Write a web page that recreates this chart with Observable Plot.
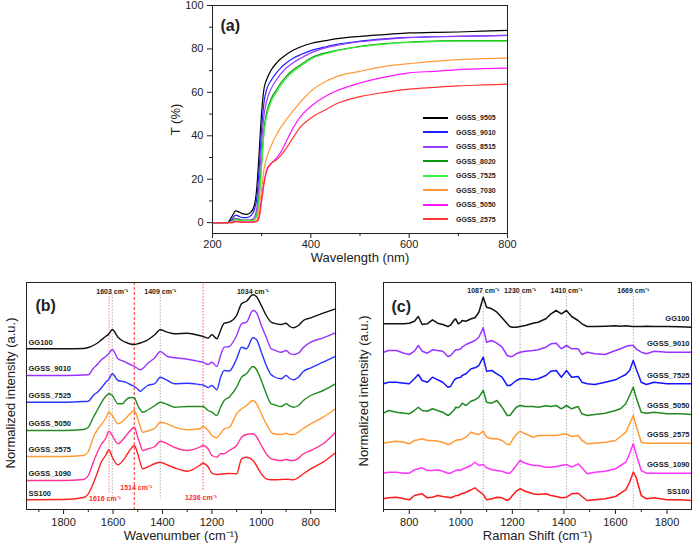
<!DOCTYPE html>
<html>
<head>
<meta charset="utf-8">
<script src="https://cdn.jsdelivr.net/npm/d3@7"></script>
<script src="https://cdn.jsdelivr.net/npm/@observablehq/plot@0.6"></script>
<style>
  html, body { margin: 0; padding: 0; background: #fff; }
  #fig { position: relative; width: 693px; height: 547px; overflow: hidden; font-family: "Liberation Sans", Arial, sans-serif; }
  #fig > div { position: absolute; }
  #pa { left: 150px; top: 1px; }
  #pb { left: 0px; top: 270px; }
  #pc { left: 345px; top: 270px; }
  #key { left: 423px; top: 110.5px; width: 110px; }
  .uvkey-swatch { height: 14.5px; padding-bottom: 0 !important; margin: 0 !important; }
  .uvkey-swatch > svg { margin-right: 8px; }
</style>
</head>
<body>
<div id="fig"><div id="pa"></div><div id="pb"></div><div id="pc"></div><div id="key"></div></div>
<script>
// ---------- (a) UV-Vis transmittance ----------
const uvNames = ["GGSS_9505", "GGSS_9010", "GGSS_8515", "GGSS_8020", "GGSS_7525", "GGSS_7030", "GGSS_5050", "GGSS_2575"];
const wavelengthNm = [200, 230, 240, 247, 255, 262, 270, 278, 285, 290, 295, 300, 305, 310, 320, 330, 340, 350, 365, 380, 400, 430, 450, 500, 550, 600, 650, 700, 750, 800];
const tGGSS9505 = [0, 0, 3, 5.4, 4.8, 4, 3.8, 4.8, 8, 15.8, 32.8, 51, 62, 65.8, 70.5, 73.5, 75.7, 77.4, 79.5, 81, 82.5, 83.8, 84.6, 85.8, 86.6, 87.4, 87.6, 87.8, 88.2, 88.5];
const tGGSS9010 = [0, 0, 1.5, 3.5, 2.8, 2.3, 2.3, 3.2, 5.8, 11.2, 25, 43.5, 55.8, 61.2, 65.8, 69, 71.5, 73.5, 75.8, 77.4, 79.2, 81, 82, 83.6, 84.6, 85.3, 85.6, 85.8, 86, 86.2];
const tGGSS8515 = [0, 0, 0.8, 2, 1.5, 1.2, 1.2, 1.3, 2.5, 6.6, 19, 37.4, 49.7, 55.8, 62, 65.8, 68.8, 71.2, 73.8, 75.8, 78.2, 80.5, 81.5, 83.3, 84.4, 85.2, 85.6, 85.8, 86, 86.2];
const tGGSS8020 = [0, 0, 0.5, 1.7, 1.3, 1, 1, 1, 1.5, 3.5, 12.8, 28, 43.5, 50.5, 57.4, 61.2, 64.6, 67.4, 70.5, 72.8, 75.8, 78.2, 79.2, 81.2, 82.4, 83.2, 83.6, 83.8, 83.8, 83.8];
const tGGSS7525 = [0, 0, 0.4, 1.4, 1.1, 0.9, 0.9, 0.9, 1.2, 3, 11.5, 26, 41.5, 48.8, 56, 60, 63.4, 66.4, 69.6, 72.2, 75.3, 77.8, 79, 81, 82.2, 83, 83.4, 83.6, 83.6, 83.6];
const tGGSS7030 = [0, 0, 0.2, 0.8, 0.5, 0.3, 0.3, 0.3, 0.5, 1.2, 6.6, 15.8, 25, 29.7, 35.8, 40.5, 44.2, 47.4, 51.8, 55.8, 60.5, 65, 67, 69.7, 72, 73.2, 74.3, 75.1, 75.5, 75.8];
const tGGSS5050 = [0, 0, 0, 0.6, 0.4, 0.2, 0.2, 0.2, 0.3, 0.5, 3, 11.2, 19, 24.3, 27.4, 29.7, 32.8, 37.4, 44, 49, 53.5, 58.2, 60.5, 64.3, 67, 69, 69.7, 70.5, 70.9, 71.2];
const tGGSS2575 = [0, 0, 0, 0.5, 0.3, 0.2, 0.2, 0.2, 0.3, 0.5, 2.5, 10, 18.2, 23.5, 27.4, 28.9, 31.2, 34.3, 39.5, 44.3, 48.2, 52, 54.5, 58, 60, 61.5, 62.3, 63, 63.4, 63.8];
const uvSeries = [tGGSS9505, tGGSS9010, tGGSS8515, tGGSS8020, tGGSS7525, tGGSS7030, tGGSS5050, tGGSS2575];
const uvXTicks = [200, 400, 600, 800];
const uvXMinor = [300, 500, 700];
const uvYTicks = [0, 20, 40, 60, 80, 100];
const uvYMinor = [10, 30, 50, 70, 90];

// ---------- (b) FTIR ----------
const ftirNames = ["GG100", "GGSS_9010", "GGSS_7525", "GGSS_5050", "GGSS_2575", "GGSS_1090", "SS100"];
const ftirWavenumber = [1950, 1800, 1720, 1700, 1680, 1660, 1650, 1630, 1616, 1603, 1580, 1560, 1550, 1530, 1514, 1500, 1490, 1480, 1460, 1430, 1409, 1380, 1350, 1300, 1250, 1236, 1215, 1200, 1180, 1165, 1150, 1130, 1100, 1080, 1060, 1034, 1020, 1000, 980, 960, 950, 920, 900, 885, 870, 850, 830, 800, 750, 700];
const irGG100 = [160.7, 160.7, 161, 162, 164, 167, 169, 173, 175.7, 180, 172.3, 168.5, 167.3, 165.5, 165, 165.7, 166.5, 167.3, 169.5, 175, 179.7, 177.3, 175.7, 176.3, 174, 173, 171.5, 174.7, 170.7, 179, 186.3, 187.3, 194, 205.7, 208.3, 214.7, 213, 204, 194, 187.3, 186.3, 185, 186.3, 183, 181.7, 184, 189, 191.7, 196.3, 200.7];
const irGGSS9010 = [134, 134, 134.5, 134.7, 141, 146, 149, 153, 156.3, 160, 150.7, 148.5, 147.3, 145, 143, 141, 139.7, 141, 146, 152, 158, 153, 151.7, 150.3, 148, 147.3, 145, 147.3, 143, 154, 162.3, 163, 174, 185.7, 187.3, 199, 197, 184, 172.3, 160.7, 159.7, 157.3, 159, 156, 155, 156.3, 162, 167.3, 171.7, 176.7];
const irGGSS7525 = [107.3, 107.3, 108, 108.3, 114, 118, 120.7, 127, 130.7, 135.7, 129, 128, 127.3, 125, 123, 120.5, 118.3, 120, 124, 126, 132.3, 129, 125.7, 126.3, 125, 124.5, 122, 124, 119.7, 132, 139, 138.5, 150.7, 162.3, 160.7, 171.7, 170, 157.3, 144, 134.7, 133, 130.7, 134, 131, 129.7, 132.3, 138, 141.7, 147.3, 153];
const irGGSS5050 = [79, 79, 80, 82.3, 92, 101, 105.7, 113, 115.7, 114, 105.7, 106, 109, 112, 111.7, 104, 100, 97.3, 99.5, 104, 107.3, 105, 102.3, 103, 103, 103, 99, 97.3, 94, 102.3, 109, 112.3, 122.3, 132.3, 135.7, 143, 140, 129, 115.7, 105.7, 105, 103, 105.7, 103.5, 102.3, 104, 109, 114, 119, 125.7];
const irGGSS2575 = [53, 53, 54, 58, 72, 81, 84, 91, 97.3, 94, 85.7, 88.5, 90.7, 96, 99, 90.7, 83, 77.3, 78.5, 81.5, 87.3, 85.7, 82.3, 79.7, 80.7, 83, 79, 74, 71.7, 76, 80.7, 82, 95.7, 100.7, 104, 109, 106, 95.7, 85.7, 77.3, 75.7, 75, 76.3, 75, 75, 77.3, 81, 85.7, 92.3, 100.7];
const irGGSS1090 = [29, 29, 30, 34, 47, 59, 64, 71, 78.3, 74, 65.7, 70, 73, 79, 82.3, 72.3, 65, 59, 60.5, 63, 68.3, 65.7, 62, 59, 62.3, 64, 60.5, 54, 52.3, 55.7, 55.7, 59, 64, 72.3, 75, 75.7, 73, 64, 55.7, 50.7, 50, 49, 50, 49, 49, 51.3, 55.7, 59, 65.7, 77.3];
const irSS100 = [9.7, 10, 12, 15.7, 26, 39, 46, 54, 59.7, 52.3, 44.7, 49, 52.3, 60, 64, 55.7, 47, 40.7, 42.5, 46, 47.3, 44.5, 41.5, 38.3, 44, 46.3, 42.5, 36.3, 35, 35.3, 35.7, 36, 35.7, 50.7, 52.3, 49, 44, 35.7, 30.7, 29.7, 29.7, 30, 30.3, 30, 29.7, 32, 35.7, 40.7, 47.3, 56.7];
const ftirSeries = [irGG100, irGGSS9010, irGGSS7525, irGGSS5050, irGGSS2575, irGGSS1090, irSS100];
const ftirTicks = [1800, 1600, 1400, 1200, 1000, 800];
const ftirMinor = [1900, 1700, 1500, 1300, 1100, 900, 700];
const ftirTopPeaks = [1603, 1409, 1034];
const ftirGrayLines = [1603, 1409];

// ---------- (c) Raman ----------
const ramanNames = ["GG100", "GGSS_9010", "GGSS_7525", "GGSS_5050", "GGSS_2575", "GGSS_1090", "SS100"];
const ramanShift = [700, 720, 750, 780, 800, 820, 835, 850, 870, 890, 910, 930, 950, 960, 975, 980, 990, 1000, 1005, 1020, 1040, 1055, 1070, 1087, 1100, 1120, 1140, 1160, 1180, 1190, 1200, 1215, 1230, 1250, 1280, 1300, 1330, 1350, 1370, 1390, 1410, 1430, 1455, 1470, 1490, 1520, 1560, 1600, 1620, 1640, 1655, 1669, 1680, 1700, 1720, 1750, 1800, 1850, 1895];
const rmGG100 = [185.7, 185.7, 185.7, 185.7, 186.3, 188.3, 193, 185, 185.7, 189.7, 186.3, 185, 183, 184.3, 189.7, 190.7, 185.7, 187.3, 189, 188.3, 190.7, 191.7, 197.3, 212.3, 202.3, 200.7, 197.3, 191.7, 185.7, 183, 182.3, 182.3, 183, 184, 186.3, 187.3, 190.7, 195.7, 199, 195.7, 199, 193, 189, 185.7, 183, 183, 183.3, 183.7, 183.3, 183.7, 183.3, 183, 183, 183, 183.3, 183, 183, 182.7, 182.3];
const rmGGSS9010 = [157.3, 159, 159, 156.3, 155, 158.3, 164, 158.3, 156.3, 159.7, 159, 158.3, 153, 154, 158.3, 159.7, 159.7, 160.7, 162.3, 165, 167.3, 169, 172.3, 181.7, 167.3, 169, 166.3, 162.3, 154, 153, 153, 155.7, 157.3, 158.3, 159, 159.7, 162.3, 165.7, 166.3, 160.7, 164, 160.7, 160.7, 155, 157.3, 155.7, 155, 159, 160.7, 163, 164, 164, 160.7, 157.3, 155.7, 158.3, 157.3, 157.3, 157.3];
const rmGGSS7525 = [125.7, 127.3, 127.3, 126.3, 125.7, 130.7, 135, 129, 127.3, 132.3, 129.7, 127.3, 122.3, 123, 129.7, 130.7, 131.7, 132.3, 134, 135.7, 140.7, 141.7, 144, 152.3, 138.3, 139, 135.7, 132.3, 124, 124, 125.7, 129, 130.7, 130.7, 129.7, 130.7, 134, 138.3, 139, 132.3, 139, 132.3, 133, 127.3, 125.7, 125, 127.3, 129.7, 132.3, 135, 139, 149, 140.7, 127.3, 125, 127.3, 125.7, 125.7, 125.7];
const rmGGSS5050 = [96.3, 99, 97.3, 96.3, 95.7, 99, 102.3, 99, 98.3, 100.7, 99, 97.3, 94, 95.7, 99.7, 102.3, 101.7, 104, 106.3, 104, 108.3, 109.7, 112.3, 119, 107.3, 106.3, 109, 102.3, 94, 94, 97.3, 102.3, 104, 103, 103, 102.3, 103.7, 103, 104, 100.7, 104, 100.7, 103, 95.7, 94, 95, 96.3, 99, 100.7, 105.7, 114, 122.3, 112.3, 97.3, 96.3, 97.3, 95.7, 95.7, 95];
const rmGGSS2575 = [66.3, 67.3, 68.3, 67.3, 65.7, 69, 69.7, 70.7, 69, 69, 68.3, 67.3, 65, 65.7, 68.3, 69, 69.7, 69.7, 70.3, 72.3, 77.3, 75.7, 75, 78.3, 72.3, 70.7, 70.7, 69, 65, 65, 69.7, 75, 78.3, 75.7, 72.3, 74, 74, 74, 74, 75, 75.7, 73, 74, 69, 65.7, 66.3, 67.3, 69, 73, 77.3, 85.7, 94, 84, 67.3, 66.3, 66.3, 66.3, 66.3, 66.3];
const rmGGSS1090 = [36.3, 37.3, 37.3, 36.3, 36.3, 39.7, 40.7, 41.7, 39, 39, 39.7, 38.3, 36.3, 36.3, 38.3, 39, 39.7, 39, 40.3, 41.7, 44, 47.3, 44, 45, 41.7, 39.7, 39, 38.3, 36.3, 36.3, 39, 44, 49, 46.3, 44, 44, 42.3, 42.3, 43, 44, 45, 42.3, 45.7, 41.7, 35.7, 37.3, 38.3, 40.7, 44, 47.3, 55.7, 65.7, 55.7, 39, 36.3, 36.3, 36.3, 36.3, 36.3];
const rmSS100 = [10.7, 11.7, 12.3, 10.7, 9.7, 14, 15, 15.7, 11.7, 12.3, 14, 13, 12.3, 11.7, 13, 14, 14, 15.7, 15.7, 17.3, 19.7, 21.7, 18.3, 15, 9.7, 10.7, 12.3, 11.7, 9, 10.7, 14, 18.3, 20.7, 18.3, 15.7, 15, 15.7, 14, 13, 11.7, 12.3, 15.7, 16.3, 13, 9, 9.7, 10.7, 13, 16.3, 19.7, 27.3, 37.3, 32.3, 14, 10.7, 11.7, 9.7, 9.7, 9];
const ramanSeries = [rmGG100, rmGGSS9010, rmGGSS7525, rmGGSS5050, rmGGSS2575, rmGGSS1090, rmSS100];
const ramanTicks = [800, 1000, 1200, 1400, 1600, 1800];
const ramanMinor = [700, 900, 1100, 1300, 1500, 1700];
const ramanPeaks = [1087, 1230, 1410, 1669];

// ---------- styling ----------
const uvColors = ["#000000", "#1f1fff", "#9b3dff", "#0a990a", "#3ef03e", "#ff9a3a", "#ff14ff", "#ff3535"];
const ftirColors = ["#111111", "#9933ff", "#2a35ff", "#218a21", "#ff9a30", "#ff3399", "#ff2222"];
const ramanColors = ["#111111", "#9933ff", "#1414ff", "#228822", "#ff9933", "#ff33ff", "#ff1a1a"];
const font = '"Liberation Sans", Arial, sans-serif';
const baseStyle = {fontFamily: font, fontSize: "11px", color: "#222", background: "transparent", overflow: "visible"};
const wn = (d) => `${d} cm⁻¹`;
const noLabel = () => "";
const toRows = (names, xs, series) =>
  names.flatMap((name, i) => xs.map((x, j) => ({name, x, y: series[i][j]})));
const firstOf = (names, xs, series) => names.map((name, i) => ({name, x: xs[0], y: series[i][0]}));
const lastOf = (names, xs, series) => names.map((name, i) => ({name, x: xs[xs.length - 1], y: series[i][series[i].length - 1]}));

// (a)
const plotA = Plot.plot({
  width: 370, height: 270,
  marginLeft: 62, marginRight: 13, marginTop: 4, marginBottom: 38,
  style: baseStyle,
  x: {domain: [200, 800]},
  y: {domain: [-5, 100]},
  color: {domain: uvNames, range: uvColors},
  marks: [
    Plot.line(toRows(uvNames, wavelengthNm, uvSeries), {x: "x", y: "y", z: "name", stroke: "name", strokeWidth: 1.2, curve: "monotone-x"}),
    Plot.frame({stroke: "#222"}),
    Plot.axisX({ticks: uvXTicks, tickSize: 5, tickPadding: 2, tickFormat: "d", label: null}),
    Plot.axisX({ticks: uvXMinor, tickSize: 3, tickFormat: noLabel, label: null}),
    Plot.axisY({ticks: uvYTicks, tickSize: 5, tickPadding: 4, tickFormat: "d", label: null}),
    Plot.axisY({ticks: uvYMinor, tickSize: 3, tickFormat: noLabel, label: null}),
    Plot.text(["Wavelength (nm)"], {text: d => d, frameAnchor: "bottom", dy: 28, fontSize: 13}),
    Plot.text(["T (%)"], {text: d => d, frameAnchor: "left", textAnchor: "middle", dx: -37, rotate: -90, fontSize: 13}),
    Plot.text(["(a)"], {text: d => d, frameAnchor: "top-left", dx: 8, dy: 14, textAnchor: "start", fontSize: 16, fontWeight: "bold"})
  ]
});
document.getElementById("pa").append(plotA);

const key = Plot.legend({
  legend: "swatches",
  color: {type: "ordinal", domain: uvNames, range: uvColors},
  columns: 1,
  swatchWidth: 25,
  swatchHeight: 2,
  className: "uvkey",
  style: {fontFamily: font, fontSize: "7px", fontWeight: "bold", color: "#222", margin: "0"}
});
document.getElementById("key").append(key);

// (b)
const plotB = Plot.plot({
  width: 345, height: 277,
  marginLeft: 26, marginRight: 10, marginTop: 12, marginBottom: 38,
  style: baseStyle,
  x: {domain: [1950, 700]},
  y: {domain: [0, 227], axis: null},
  color: {domain: ftirNames, range: ftirColors},
  marks: [
    Plot.ruleX([1616], {x: d => d, stroke: "#ff5a5a", strokeWidth: 0.8, strokeDasharray: "1.5,1.5", insetTop: 11, insetBottom: 16}),
    Plot.ruleX(ftirGrayLines, {x: d => d, stroke: "#9a9a9a", strokeWidth: 0.8, strokeDasharray: "1.5,1.5", insetTop: 12, insetBottom: 10}),
    Plot.ruleX([1514], {x: d => d, stroke: "#ff2a2a", strokeWidth: 1, strokeDasharray: "3,2"}),
    Plot.ruleX([1236], {x: d => d, stroke: "#ff4040", strokeWidth: 0.9, strokeDasharray: "1.5,1.5", insetTop: 2, insetBottom: 18}),
    Plot.line(toRows(ftirNames, ftirWavenumber, ftirSeries), {x: "x", y: "y", z: "name", stroke: "name", strokeWidth: 1.4, curve: "monotone-x"}),
    Plot.frame({stroke: "#222"}),
    Plot.axisX({ticks: ftirTicks, tickSize: 5, tickPadding: 4, tickFormat: "d", label: null}),
    Plot.axisX({ticks: ftirMinor, tickSize: 3, tickFormat: noLabel, label: null}),
    Plot.text(firstOf(ftirNames, ftirWavenumber, ftirSeries), {x: "x", y: "y", text: "name", textAnchor: "start", dx: 2, dy: -6.5, fontSize: 7.5, fontWeight: "bold", fill: "#222"}),
    Plot.text(ftirTopPeaks, {x: d => d, text: wn, frameAnchor: "top", dy: 7, fontSize: 7, fontWeight: "bold", fill: "#222"}),
    Plot.text([1514], {x: d => d, text: wn, frameAnchor: "bottom", dy: -20, dx: 2, fontSize: 7, fontWeight: "bold", fill: "#ff2a2a"}),
    Plot.text([1616], {x: d => d, text: wn, frameAnchor: "bottom", dy: -9, dx: -4, fontSize: 7, fontWeight: "bold", fill: "#ff2a2a"}),
    Plot.text([1236], {x: d => d, text: wn, frameAnchor: "bottom", dy: -10, dx: -2, fontSize: 7, fontWeight: "bold", fill: "#ff2a2a"}),
    Plot.text(["Wavenumber (cm⁻¹)"], {text: d => d, frameAnchor: "bottom", dy: 30, fontSize: 13}),
    Plot.text(["Normalized intensity (a.u.)"], {text: d => d, frameAnchor: "left", textAnchor: "middle", dx: -16, dy: -3, rotate: -90, fontSize: 13}),
    Plot.text(["(b)"], {text: d => d, frameAnchor: "top-left", dx: 9, dy: 17, textAnchor: "start", fontSize: 16, fontWeight: "bold"})
  ]
});
document.getElementById("pb").append(plotB);

// (c)
const plotC = Plot.plot({
  width: 348, height: 277,
  marginLeft: 38, marginRight: 2, marginTop: 12, marginBottom: 38,
  style: baseStyle,
  x: {domain: [700, 1895]},
  y: {domain: [0, 227], axis: null},
  color: {domain: ramanNames, range: ramanColors},
  marks: [
    Plot.ruleX(ramanPeaks, {x: d => d, stroke: "#a0a0a0", strokeWidth: 0.8, strokeDasharray: "1.5,1.5", insetTop: 11}),
    Plot.line(toRows(ramanNames, ramanShift, ramanSeries), {x: "x", y: "y", z: "name", stroke: "name", strokeWidth: 1.5}),
    Plot.frame({stroke: "#222"}),
    Plot.axisX({ticks: ramanTicks, tickSize: 5, tickPadding: 4, tickFormat: "d", label: null}),
    Plot.axisX({ticks: ramanMinor, tickSize: 3, tickFormat: noLabel, label: null}),
    Plot.text(lastOf(ramanNames, ramanShift, ramanSeries), {x: "x", y: "y", text: "name", textAnchor: "end", dx: -2, dy: -8.5, fontSize: 7.5, fontWeight: "bold", fill: "#222"}),
    Plot.text(ramanPeaks, {x: d => d, text: wn, frameAnchor: "top", dy: 6, fontSize: 7, fontWeight: "bold", fill: "#222"}),
    Plot.text(["Raman Shift (cm⁻¹)"], {text: d => d, frameAnchor: "bottom", dy: 30, fontSize: 13}),
    Plot.text(["Normalized intensity (a.u.)"], {text: d => d, frameAnchor: "left", textAnchor: "middle", dx: -20, dy: -5, rotate: -90, fontSize: 13}),
    Plot.text(["(c)"], {text: d => d, frameAnchor: "top-left", dx: 8, dy: 18, textAnchor: "start", fontSize: 16, fontWeight: "bold"})
  ]
});
document.getElementById("pc").append(plotC);
</script>
</body>
</html>
